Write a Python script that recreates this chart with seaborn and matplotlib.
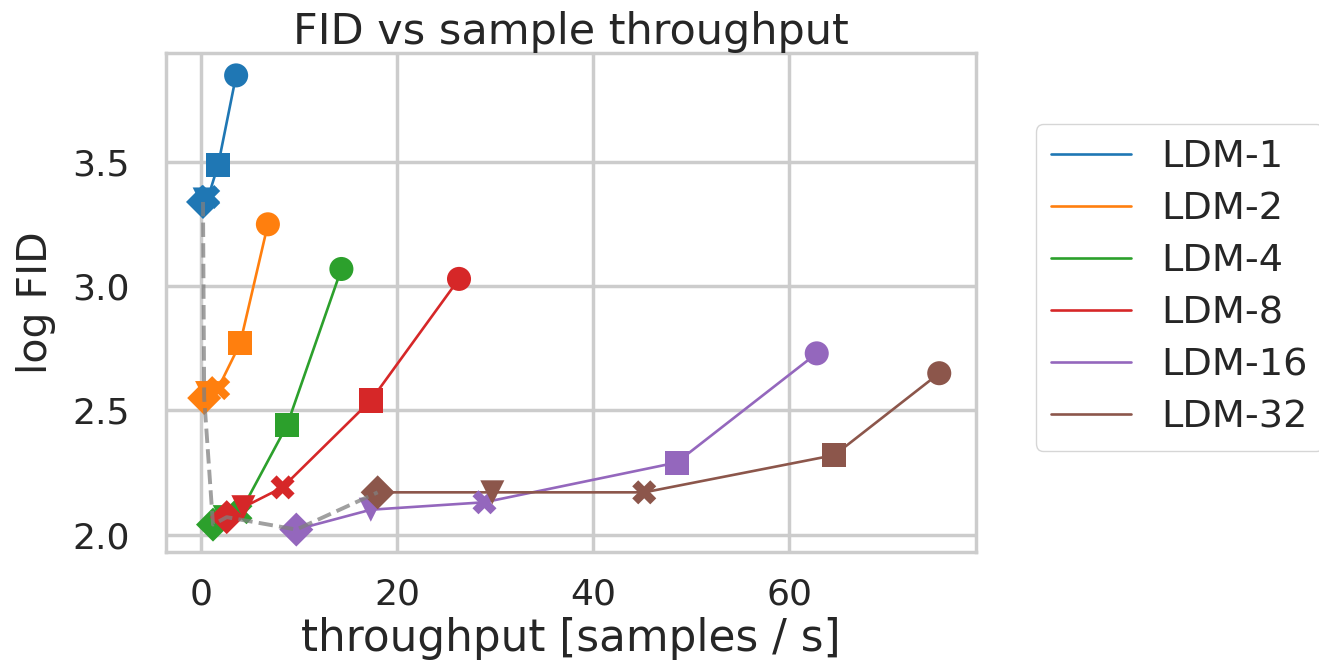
import numpy as np
import pandas as pd
import matplotlib
matplotlib.use("Agg")
import matplotlib.pyplot as plt
import seaborn as sns

# models and sampling-step markers
models = ['LDM-1', 'LDM-2', 'LDM-4', 'LDM-8', 'LDM-16', 'LDM-32']
steps = [10, 20, 50, 100, 200]
step_markers = ['o', 's', 'X', 'v', 'D']

# throughput [samples / s], one value per entry in steps
thr_ldm1 = [3.56, 1.73, 0.71, 0.35, 0.18]
thr_ldm2 = [6.8, 3.97, 1.73, 0.6, 0.3]
thr_ldm4 = [14.3, 8.75, 4.0, 2.4, 1.2]
thr_ldm8 = [26.3, 17.3, 8.3, 4.3, 2.6]
thr_ldm16 = [62.8, 48.5, 28.9, 17.3, 9.7]
thr_ldm32 = [75.3, 64.6, 45.2, 29.7, 18.0]

# log FID
fid_ldm1 = [3.85, 3.49, 3.36, 3.35, 3.34]
fid_ldm2 = [3.25, 2.77, 2.59, 2.57, 2.55]
fid_ldm4 = [3.07, 2.44, 2.09, 2.07, 2.04]
fid_ldm8 = [3.03, 2.54, 2.19, 2.11, 2.07]
fid_ldm16 = [2.73, 2.29, 2.13, 2.10, 2.02]
fid_ldm32 = [2.65, 2.32, 2.17, 2.17, 2.17]

thr_all = [thr_ldm1, thr_ldm2, thr_ldm4, thr_ldm8, thr_ldm16, thr_ldm32]
fid_all = [fid_ldm1, fid_ldm2, fid_ldm4, fid_ldm8, fid_ldm16, fid_ldm32]

rows = []
for m, thr, fid in zip(models, thr_all, fid_all):
    for s, t, f in zip(steps, thr, fid):
        rows.append({'model': m, 'steps': s, 'throughput': t, 'logfid': f})
df = pd.DataFrame(rows)

sns.set_theme(style='whitegrid')
plt.rcParams.update({
    'axes.edgecolor': '.8',
    'axes.linewidth': 2.5,
    'grid.linewidth': 2.5,
    'grid.color': '.8',
})
palette = sns.color_palette('tab10', len(models))

fig = plt.figure(figsize=(13.19, 6.67), dpi=100)
ax = fig.add_axes([0.126, 0.172, 0.614, 0.749])

sns.lineplot(data=df, x='throughput', y='logfid', hue='model', hue_order=models,
             palette=palette, linewidth=1.9, ax=ax)
handles, labels = ax.get_legend_handles_labels()
ax.get_legend().remove()

sns.scatterplot(data=df, x='throughput', y='logfid', hue='model', hue_order=models,
                style='steps', style_order=steps, markers=step_markers,
                palette=palette, s=300, linewidth=0, legend=False, ax=ax, zorder=3)

# dashed line through the 200-step points
best = df[df['steps'] == 200]
sns.lineplot(data=best, x='throughput', y='logfid', sort=False, color='gray',
             linestyle='--', linewidth=2.8, alpha=0.75, ax=ax, zorder=4)

ax.set_title('FID vs sample throughput', fontsize=31, color='.15')
ax.set_xlabel('throughput [samples / s]', fontsize=31.5, color='.15', labelpad=4)
ax.set_ylabel('log FID', fontsize=29.5, color='.15', labelpad=12)
ax.tick_params(labelsize=26, colors='.15')
ax.tick_params(axis='y', pad=20)
ax.tick_params(axis='x', pad=12)
ax.set_xticks([0, 20, 40, 60])
ax.set_yticks([2.0, 2.5, 3.0, 3.5])

ax.legend(handles, labels, loc='center left', bbox_to_anchor=(1.05, 0.53),
          fontsize=27.5, frameon=True, handlelength=2.1, labelspacing=0.42)

fig.savefig('out.png', dpi=100)
